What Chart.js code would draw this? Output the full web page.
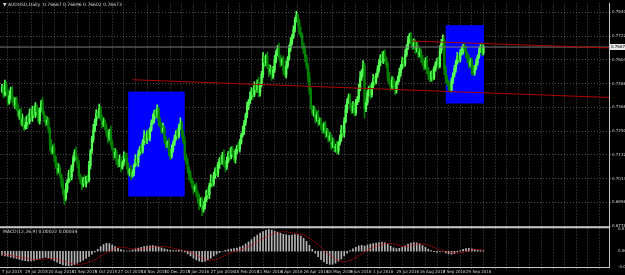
<!DOCTYPE html>
<html>
<head>
<meta charset="utf-8">
<script src="https://cdn.jsdelivr.net/npm/chart.js@4.4.0/dist/chart.umd.min.js"></script>
<style>
  html, body { margin: 0; padding: 0; background: #000; }
  #wrap { width: 625px; height: 275px; position: relative; }
</style>
</head>
<body>
<div id="wrap"><canvas id="chart" width="625" height="275"></canvas></div>
<script>
// ---------------- DATA ----------------
const symbolTitle = "AUDUSD,Daily  0.76667 0.76696 0.76602 0.76673";
const macdTitle = "MACD(12,26,9) 0.00022 0.00034";

// daily closes, 7 Jul 2015 .. 17 Oct 2016 (open of a bar = previous close)
const firstOpen = 0.7450;
const closes = [
  0.7470, 0.7430, 0.7485, 0.7445, 0.7390, 0.7425, 0.7460, 0.7405, 0.7380, 0.7410,
  0.7365, 0.7330, 0.7350, 0.7290, 0.7310, 0.7265, 0.7280, 0.7320, 0.7295, 0.7340,
  0.7315, 0.7360, 0.7330, 0.7375, 0.7345, 0.7300, 0.7355, 0.7390, 0.7340, 0.7320,
  0.7290, 0.7305, 0.7260, 0.7180, 0.7145, 0.7170, 0.7120, 0.7080, 0.7050, 0.7065,
  0.7030, 0.6990, 0.6945, 0.6915, 0.6960, 0.7000, 0.7040, 0.7020, 0.7075, 0.7110,
  0.7145, 0.7120, 0.7090, 0.7030, 0.7005, 0.6985, 0.7010, 0.6990, 0.7020, 0.7005,
  0.7080, 0.7150, 0.7210, 0.7255, 0.7300, 0.7340, 0.7325, 0.7360, 0.7320, 0.7285,
  0.7300, 0.7265, 0.7240, 0.7215, 0.7250, 0.7190, 0.7160, 0.7130, 0.7145, 0.7100,
  0.7085, 0.7110, 0.7070, 0.7095, 0.7130, 0.7115, 0.7080, 0.7040, 0.7060, 0.7030,
  0.7045, 0.7080, 0.7110, 0.7095, 0.7140, 0.7165, 0.7150, 0.7195, 0.7225, 0.7205,
  0.7240, 0.7215, 0.7260, 0.7290, 0.7310, 0.7345, 0.7330, 0.7360, 0.7300, 0.7280,
  0.7250, 0.7265, 0.7210, 0.7180, 0.7195, 0.7150, 0.7125, 0.7160, 0.7190, 0.7215,
  0.7245, 0.7225, 0.7270, 0.7290, 0.7240, 0.7200, 0.7130, 0.7100, 0.7060, 0.7030,
  0.7005, 0.6985, 0.6960, 0.6975, 0.6940, 0.6910, 0.6885, 0.6910, 0.6860, 0.6880,
  0.6910, 0.6950, 0.6935, 0.6980, 0.7010, 0.6990, 0.7030, 0.7060, 0.7040, 0.7085,
  0.7110, 0.7095, 0.7130, 0.7090, 0.7070, 0.7105, 0.7140, 0.7120, 0.7160, 0.7135,
  0.7110, 0.7150, 0.7175, 0.7160, 0.7195, 0.7230, 0.7250, 0.7290, 0.7330, 0.7375,
  0.7395, 0.7420, 0.7450, 0.7430, 0.7475, 0.7455, 0.7490, 0.7440, 0.7480, 0.7530,
  0.7610, 0.7590, 0.7620, 0.7570, 0.7545, 0.7560, 0.7520, 0.7555, 0.7600, 0.7640,
  0.7660, 0.7615, 0.7590, 0.7605, 0.7555, 0.7530, 0.7575, 0.7610, 0.7660, 0.7690,
  0.7720, 0.7755, 0.7800, 0.7825, 0.7790, 0.7740, 0.7725, 0.7680, 0.7650, 0.7615,
  0.7575, 0.7520, 0.7450, 0.7370, 0.7340, 0.7355, 0.7310, 0.7330, 0.7290, 0.7305,
  0.7270, 0.7255, 0.7280, 0.7235, 0.7250, 0.7210, 0.7225, 0.7180, 0.7195, 0.7165,
  0.7175, 0.7150, 0.7190, 0.7215, 0.7260, 0.7240, 0.7300, 0.7355, 0.7400, 0.7420,
  0.7380, 0.7350, 0.7375, 0.7340, 0.7390, 0.7410, 0.7460, 0.7515, 0.7540, 0.7575,
  0.7360, 0.7390, 0.7440, 0.7465, 0.7430, 0.7480, 0.7510, 0.7495, 0.7530, 0.7555,
  0.7590, 0.7620, 0.7600, 0.7635, 0.7610, 0.7580, 0.7520, 0.7490, 0.7470, 0.7505,
  0.7475, 0.7450, 0.7490, 0.7510, 0.7540, 0.7570, 0.7600, 0.7585, 0.7630, 0.7665,
  0.7700, 0.7725, 0.7695, 0.7670, 0.7690, 0.7655, 0.7670, 0.7630, 0.7645, 0.7610,
  0.7590, 0.7570, 0.7600, 0.7555, 0.7530, 0.7510, 0.7540, 0.7515, 0.7560, 0.7585,
  0.7600, 0.7575, 0.7650, 0.7690, 0.7700, 0.7560, 0.7510, 0.7490, 0.7470, 0.7455,
  0.7500, 0.7530, 0.7560, 0.7590, 0.7620, 0.7605, 0.7640, 0.7650, 0.7670, 0.7655,
  0.7630, 0.7610, 0.7580, 0.7600, 0.7555, 0.7540, 0.7565, 0.7590, 0.7620, 0.7650,
  0.7670, 0.7640, 0.7668
];

// shadows in pips (0.0001) above the body top and below the body bottom
const pip = 0.0001;
const wickUp = [
  12, 6, 18, 9, 14, 22, 8, 11, 16, 7,
  10, 19, 5, 13, 24, 9, 15, 6, 12, 20,
  8, 14, 11, 17, 6, 21, 9, 13, 25, 10,
  7, 16, 12, 9, 28, 11, 18, 8, 14, 22,
  10, 6, 19, 13, 31, 9, 15, 24, 8, 17,
  12, 26, 9, 14, 7, 18, 11, 22, 6, 13,
  20, 9, 15, 28, 11, 17, 8, 24, 13, 10,
  16, 7, 21, 12, 9, 25, 14, 6, 18, 11,
  9, 22, 13, 8, 17, 10, 26, 12, 7, 19,
  14, 8, 23, 11, 16, 9, 20, 13, 27, 10,
  12, 18, 7, 15, 24, 9, 13, 21, 8, 16,
  11, 25, 9, 14, 7, 19, 12, 22, 10, 15,
  8, 17, 13, 26, 9, 14, 20, 7, 16, 11,
  23, 10, 15, 8, 18, 12, 27, 9, 14, 21,
  13, 7, 19, 11, 24, 10, 16, 8, 22, 12,
  9, 20, 14, 27, 10, 17, 8, 23, 12, 15,
  18, 11, 6, 21, 13, 9, 25, 14, 10, 19,
  12, 24, 16, 8, 20, 11, 15, 28, 9, 17,
  30, 14, 10, 22, 12, 18, 9, 16, 25, 11,
  15, 27, 12, 9, 19, 13, 22, 10, 17, 24,
  11, 18, 14, 20, 9, 16, 26, 12, 8, 21,
  13, 10, 23, 15, 8, 19, 11, 17, 24, 12,
  9, 16, 12, 20, 14, 8, 18, 10, 22, 13,
  11, 25, 8, 15, 19, 12, 17, 26, 10, 14,
  16, 9, 21, 13, 18, 11, 24, 30, 15, 25,
  12, 20, 14, 9, 17, 11, 22, 13, 8, 19,
  15, 10, 24, 12, 18, 9, 14, 21, 11, 16,
  13, 19, 8, 15, 22, 10, 17, 12, 25, 14,
  20, 11, 16, 9, 18, 13, 21, 10, 15, 12,
  17, 9, 14, 22, 11, 16, 8, 19, 13, 10,
  12, 18, 24, 15, 28, 9, 13, 16, 11, 20,
  14, 10, 17, 12, 21, 9, 15, 18, 11, 13,
  16, 12, 19, 10, 14, 22, 11, 17, 9, 15,
  12, 18, 10
];
const wickDn = [
  9, 15, 7, 20, 11, 6, 17, 13, 8, 19,
  14, 8, 22, 10, 16, 12, 7, 18, 25, 9,
  11, 17, 6, 13, 21, 9, 15, 10, 8, 23,
  16, 10, 19, 27, 12, 8, 22, 14, 18, 9,
  13, 20, 11, 29, 9, 15, 7, 18, 12, 24,
  10, 14, 21, 8, 17, 26, 12, 9, 19, 13,
  7, 18, 11, 15, 9, 22, 13, 10, 16, 20,
  12, 9, 17, 24, 11, 14, 8, 20, 13, 18,
  15, 11, 23, 9, 16, 12, 19, 8, 14, 21,
  10, 17, 8, 14, 20, 11, 15, 9, 13, 16,
  18, 9, 14, 11, 7, 19, 12, 16, 24, 10,
  13, 8, 20, 15, 11, 22, 17, 9, 14, 12,
  10, 16, 9, 13, 19, 11, 24, 14, 18, 21,
  12, 17, 22, 9, 15, 19, 25, 11, 30, 13,
  16, 10, 14, 21, 9, 18, 12, 15, 11, 17,
  20, 12, 9, 16, 23, 10, 14, 18, 8, 15,
  11, 19, 13, 8, 15, 10, 9, 17, 12, 14,
  18, 10, 15, 22, 9, 14, 12, 20, 16, 11,
  13, 21, 16, 10, 25, 12, 19, 9, 14, 11,
  17, 12, 20, 14, 23, 10, 16, 13, 9, 15,
  12, 10, 14, 9, 18, 13, 11, 20, 15, 22,
  16, 24, 19, 14, 10, 17, 21, 12, 15, 9,
  14, 18, 11, 20, 13, 16, 9, 22, 12, 17,
  19, 11, 15, 10, 16, 13, 20, 9, 14, 12,
  18, 14, 10, 16, 12, 9, 15, 11, 13, 17,
  45, 13, 10, 17, 20, 12, 15, 19, 11, 14,
  12, 16, 10, 15, 18, 14, 22, 11, 17, 13,
  15, 19, 12, 10, 14, 17, 11, 20, 13, 9,
  11, 14, 18, 16, 10, 20, 13, 17, 12, 19,
  14, 18, 11, 20, 23, 15, 12, 17, 10, 13,
  12, 16, 10, 14, 9, 30, 20, 13, 17, 12,
  10, 14, 12, 17, 9, 15, 11, 13, 18, 12,
  15, 20, 17, 11, 24, 14, 12, 10, 13, 9,
  11, 14, 12
];

// MACD main (histogram), one value every 2 bars
const macdStep = 2;
const macdHist = [
  -0.0030, -0.0035, -0.0040, -0.0045, -0.0050,
  -0.0055, -0.0062, -0.0068, -0.0072, -0.0075, -0.0074, -0.0070, -0.0062, -0.0055,
  -0.0048, -0.0045, -0.0050,
  -0.0060, -0.0072, -0.0084, -0.0095, -0.0104, -0.0110, -0.0112, -0.0108, -0.0100,
  -0.0090, -0.0080, -0.0068, -0.0055, -0.0040, -0.0022, -0.0005,
  0.0015, 0.0035, 0.0052, 0.0060, 0.0058, 0.0048, 0.0035,
  0.0022, 0.0012, 0.0005, 0.0002, 0.0004,
  0.0010, 0.0018, 0.0024, 0.0030, 0.0035, 0.0040, 0.0042, 0.0043, 0.0040, 0.0034, 0.0026, 0.0018,
  0.0012, 0.0008, 0.0005, 0.0006, 0.0008, 0.0005,
  -0.0005, -0.0020, -0.0036, -0.0052, -0.0066, -0.0076, -0.0080, -0.0076, -0.0066, -0.0052, -0.0036,
  -0.0022, -0.0010, 0.0000, 0.0008, 0.0012, 0.0016, 0.0020, 0.0025, 0.0032, 0.0042,
  0.0056, 0.0072, 0.0090, 0.0108, 0.0124, 0.0138, 0.0150, 0.0160, 0.0165, 0.0162, 0.0155, 0.0146, 0.0138, 0.0130, 0.0125, 0.0122,
  0.0124, 0.0128, 0.0126, 0.0115, 0.0098, 0.0075,
  0.0045, 0.0015, -0.0015, -0.0042, -0.0065, -0.0082, -0.0094, -0.0100, -0.0098, -0.0090, -0.0076, -0.0058, -0.0036, -0.0015,
  0.0005, 0.0018, 0.0030, 0.0042, 0.0045, 0.0040, 0.0048, 0.0054, 0.0058, 0.0062, 0.0066, 0.0068, 0.0065, 0.0055, 0.0040,
  0.0026, 0.0020, 0.0022, 0.0030, 0.0042,
  0.0055, 0.0062, 0.0066, 0.0064, 0.0056, 0.0044, 0.0030, 0.0016, 0.0005,
  -0.0003, -0.0006, -0.0002, 0.0000, -0.0012, -0.0020, -0.0022, -0.0016,
  -0.0005, 0.0006, 0.0014, 0.0020, 0.0022, 0.0018, 0.0012,
  0.0008, 0.0005, 0.0004
];

// MACD signal, one value every 4 bars
const signalStep = 4;
const macdSignal = [
  -0.0020, -0.0028, -0.0036, -0.0044, -0.0052, -0.0060, -0.0064, -0.0062, -0.0056, -0.0056,
  -0.0066, -0.0080, -0.0094, -0.0100, -0.0096, -0.0084, -0.0064, -0.0038, -0.0012, 0.0012,
  0.0030, 0.0030, 0.0022, 0.0016, 0.0018, 0.0025, 0.0032, 0.0037, 0.0036, 0.0028,
  0.0018, 0.0010, 0.0002, -0.0016, -0.0040, -0.0060, -0.0068, -0.0060, -0.0040, -0.0020,
  -0.0004, 0.0012, 0.0026, 0.0046, 0.0072, 0.0098, 0.0120, 0.0138, 0.0148, 0.0148,
  0.0140, 0.0132, 0.0124, 0.0100, 0.0068, 0.0030, -0.0010, -0.0045, -0.0070, -0.0080,
  -0.0070, -0.0048, -0.0020, 0.0010, 0.0030, 0.0045, 0.0055, 0.0060, 0.0050, 0.0038,
  0.0038, 0.0048, 0.0056, 0.0052, 0.0038, 0.0020, 0.0006, -0.0006, -0.0014, -0.0012,
  -0.0002, 0.0010, 0.0014, 0.0010
];

// time axis: a label every 16 bars, a grid line every 8
const dateLabels = [
  "7 Jul 2015", "29 Jul 2015", "20 Aug 2015", "11 Sep 2015", "5 Oct 2015", "27 Oct 2015",
  "18 Nov 2015", "10 Dec 2015", "5 Jan 2016", "27 Jan 2016", "18 Feb 2016", "11 Mar 2016",
  "4 Apr 2016", "26 Apr 2016", "18 May 2016", "9 Jun 2016", "1 Jul 2016", "25 Jul 2016",
  "16 Aug 2016", "7 Sep 2016", "29 Sep 2016"
];
const labelEvery = 16;
const gridEvery = 8;

const priceTicks = [
  0.7840, 0.7781, 0.7722, 0.7663, 0.7604, 0.7545, 0.7486, 0.7427, 0.7368, 0.7309,
  0.7250, 0.7191, 0.7132, 0.7073, 0.7014, 0.6955, 0.6896, 0.6837, 0.6778
];
const macdTicks = [0.01702, 0, -0.01177];
const lastPrice = 0.76673;

// blue rectangles (bar index / price)
const boxStart = [87, 306];
const boxEnd = [126, 332.4];
const boxTop = [0.7446, 0.7776];
const boxBottom = [0.6925, 0.7387];

// red trend lines
const trendFromBar = [90, 283];
const trendFromPrice = [0.7505, 0.7697];
const trendToPrice = [0.7417, 0.7663];

// ---------------- SCALE RANGES ----------------
const xMin = -1.4, xMax = 418.6;
const priceMin = 0.6777, priceMax = 0.7884;
const macdMin = -0.0120, macdMax = 0.0190;

const upColor = "#55ff55";
const downColor = "#008200";
const gridColor = "rgba(128,128,128,0.6)";

// ---------------- DATASETS ----------------
const opens = closes.map((c, i) => i === 0 ? firstOpen : closes[i - 1]);
const candleColors = closes.map((c, i) => c >= opens[i] ? upColor : downColor);
const bodyData = closes.map((c, i) => ({ x: i, y: [opens[i], c] }));
const wickData = closes.map((c, i) => ({
  x: i,
  y: [Math.min(opens[i], c) - wickDn[i] * pip, Math.max(opens[i], c) + wickUp[i] * pip]
}));
const histData = macdHist.map((v, k) => ({ x: k * macdStep, y: v }));
const signalData = macdSignal.map((v, k) => ({ x: k * signalStep, y: v }));

const trendSets = trendFromBar.map((b, k) => ({
  type: "line",
  data: [{ x: b, y: trendFromPrice[k] }, { x: xMax, y: trendToPrice[k] }],
  yAxisID: "y",
  borderColor: "#b00000",
  borderWidth: 1,
  pointRadius: 0,
  order: 0
}));

// ---------------- PLUGINS ----------------
const mt4Plugin = {
  id: "mt4",
  beforeDatasetsDraw(chart) {
    const { ctx, scales: { x, y } } = chart;
    ctx.save();
    ctx.fillStyle = "#0000ff";
    boxStart.forEach((s, k) => {
      const x0 = x.getPixelForValue(s), x1 = x.getPixelForValue(boxEnd[k]);
      const y0 = y.getPixelForValue(boxTop[k]), y1 = y.getPixelForValue(boxBottom[k]);
      ctx.fillRect(x0, y0, x1 - x0, y1 - y0);
    });
    ctx.restore();
  },
  afterDraw(chart) {
    const { ctx, chartArea, scales: { y, m } } = chart;
    ctx.save();
    // panel separator
    ctx.strokeStyle = "#c8c8c8";
    ctx.lineWidth = 2;
    ctx.beginPath();
    ctx.moveTo(0, y.bottom + 1);
    ctx.lineTo(chartArea.right, y.bottom + 1);
    ctx.stroke();

    // current price label
    const py = Math.round(y.getPixelForValue(lastPrice));
    ctx.fillStyle = "#e8e8e8";
    ctx.fillRect(chartArea.right + 1, py - 3, 16, 6);
    ctx.fillStyle = "#000";
    ctx.font = "4px 'DejaVu Sans'";
    ctx.textBaseline = "middle";
    ctx.fillText(lastPrice.toFixed(5), chartArea.right + 2, py);

    // titles
    ctx.fillStyle = "#d8d8d8";
    ctx.font = "4.5px 'DejaVu Sans'";
    ctx.textBaseline = "top";
    ctx.fillText("\u25BC " + symbolTitle, 3, 3);
    ctx.fillText(macdTitle, 3, m.top + 3);
    ctx.restore();
  }
};

// ---------------- CHART ----------------
const tickFont = { family: "DejaVu Sans", size: 4 };

new Chart(document.getElementById("chart").getContext("2d"), {
  data: {
    datasets: [
      ...trendSets,
      {
        type: "line",
        data: [{ x: xMin, y: lastPrice }, { x: xMax, y: lastPrice }],
        yAxisID: "y",
        borderColor: "#7a7a7a",
        borderWidth: 1,
        pointRadius: 0,
        order: 1
      },
      {
        type: "bar",
        data: bodyData,
        yAxisID: "y",
        backgroundColor: candleColors,
        barThickness: 1.6,
        minBarLength: 1,
        grouped: false,
        order: 2
      },
      {
        type: "bar",
        data: wickData,
        yAxisID: "y",
        backgroundColor: candleColors,
        barThickness: 1,
        grouped: false,
        order: 3
      },
      {
        type: "line",
        data: signalData,
        yAxisID: "m",
        borderColor: "#e00000",
        borderWidth: 1,
        borderDash: [1, 1],
        pointRadius: 0,
        tension: 0.3,
        order: 0
      },
      {
        type: "bar",
        data: histData,
        yAxisID: "m",
        backgroundColor: "#b4b4b4",
        barThickness: 1,
        grouped: false,
        order: 1
      }
    ]
  },
  options: {
    responsive: false,
    animation: false,
    events: [],
    layout: { padding: { top: 1, left: 0, right: 0, bottom: 0 } },
    plugins: { legend: { display: false }, tooltip: { enabled: false } },
    scales: {
      x: {
        type: "linear",
        min: xMin,
        max: xMax,
        offset: false,
        afterBuildTicks: scale => {
          const t = [];
          for (let v = 0; v <= xMax; v += gridEvery) t.push({ value: v });
          scale.ticks = t;
        },
        afterFit: scale => { scale.height = 8; },
        ticks: {
          autoSkip: false,
          maxRotation: 0,
          align: "start",
          padding: 1,
          color: "#d0d0d0",
          font: tickFont,
          callback: v => (v % labelEvery === 0 && dateLabels[v / labelEvery]) ? dateLabels[v / labelEvery] : ""
        },
        grid: { color: gridColor, tickLength: 2 },
        border: { display: true, color: "#c8c8c8", dash: [1, 2] }
      },
      y: {
        type: "linear",
        position: "right",
        stack: "panes",
        stackWeight: 225,
        min: priceMin,
        max: priceMax,
        afterBuildTicks: scale => { scale.ticks = priceTicks.map(v => ({ value: v })); },
        afterFit: scale => { scale.width = 16; },
        ticks: { color: "#d0d0d0", font: tickFont, padding: 1, callback: v => v.toFixed(4) },
        grid: { color: gridColor, tickLength: 2 },
        border: { display: true, color: "#c8c8c8", dash: [1, 2] }
      },
      m: {
        type: "linear",
        position: "right",
        stack: "panes",
        stackWeight: 41,
        min: macdMin,
        max: macdMax,
        afterBuildTicks: scale => { scale.ticks = macdTicks.map(v => ({ value: v })); },
        afterFit: scale => { scale.width = 16; },
        ticks: { color: "#d0d0d0", font: tickFont, padding: 1, callback: v => v === 0 ? "0.00" : v.toFixed(5) },
        grid: { display: false },
        border: { display: true, color: "#c8c8c8" }
      }
    }
  },
  plugins: [mt4Plugin]
});
</script>
</body>
</html>
